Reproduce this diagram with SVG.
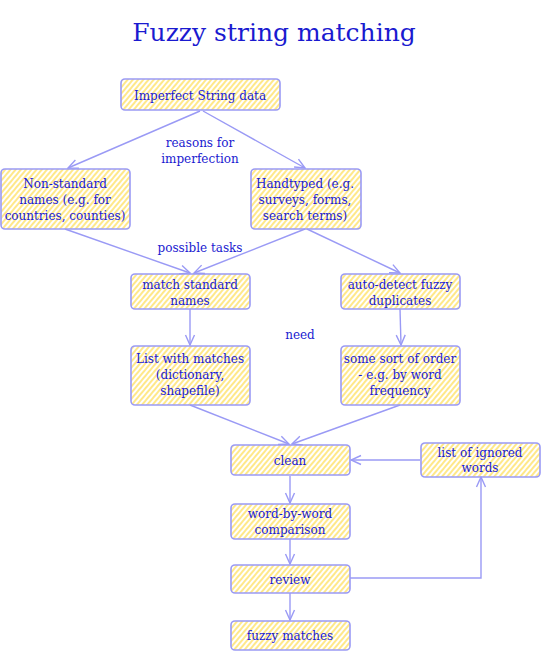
<svg xmlns="http://www.w3.org/2000/svg" width="541" height="652" viewBox="0 0 541 652">
<defs>
<pattern id="hatch" width="4" height="4" patternUnits="userSpaceOnUse" patternTransform="rotate(40)">
<line x1="1" y1="0" x2="1" y2="4" stroke="#ffd83a" stroke-width="1.2"/>
</pattern>
<marker id="arr" viewBox="0 0 12 12" refX="11" refY="6" markerWidth="12" markerHeight="12" markerUnits="userSpaceOnUse" orient="auto">
<path d="M1,1.5 L11,6 L1,10.5" fill="none" stroke="#9a9af5" stroke-width="1.4"/>
</marker>
</defs>
<style>
.box rect{fill:url(#hatch);stroke:#9a9af5;stroke-width:1.6}
text{font-family:"DejaVu Serif","Liberation Serif",serif;fill:#1a1ad0;text-anchor:middle}
.t{font-size:12px}
.title{font-size:25px}
.edges path{fill:none;stroke:#9a9af5;stroke-width:1.4;marker-end:url(#arr)}
</style>
<rect width="541" height="652" fill="#ffffff"/>
<text class="title" x="274" y="41">Fuzzy string matching</text>
<g class="edges" id="connectors">
<path d="M200,111 L68,168"/>
<path d="M203,111 L305,168"/>
<path d="M65,229 L190,273"/>
<path d="M305,229 L194,273"/>
<path d="M307,229 L400,273"/>
<path d="M190,309 L190,345"/>
<path d="M400,309 L401,345"/>
<path d="M190,405 L289,444"/>
<path d="M400,405 L292,444"/>
<path d="M420,460 L351,460"/>
<path d="M290,476 L290,503"/>
<path d="M290,539 L290,564"/>
<path d="M290,593 L290,620"/>
<path d="M350,578 L481,578 L481,477"/>
</g>
<g class="box" id="n-imperfect"><rect x="121" y="79" width="159" height="31" rx="4"/><text class="t" x="200" y="100">Imperfect String data</text></g>
<g class="box" id="n-nonstandard"><rect x="1" y="169" width="129" height="60" rx="4"/><text class="t" x="65" y="188">Non-standard</text><text class="t" x="65" y="204">names (e.g. for</text><text class="t" x="65" y="220">countries, counties)</text></g>
<g class="box" id="n-handtyped"><rect x="251" y="169" width="110" height="60" rx="4"/><text class="t" x="305" y="188">Handtyped (e.g.</text><text class="t" x="305" y="204">surveys, forms,</text><text class="t" x="305" y="220">search terms)</text></g>
<g class="box" id="n-match"><rect x="131" y="274" width="119" height="35" rx="4"/><text class="t" x="190" y="289">match standard</text><text class="t" x="190" y="305">names</text></g>
<g class="box" id="n-autodetect"><rect x="341" y="274" width="119" height="35" rx="4"/><text class="t" x="400" y="289">auto-detect fuzzy</text><text class="t" x="400" y="305">duplicates</text></g>
<g class="box" id="n-list"><rect x="131" y="346" width="119" height="59" rx="4"/><text class="t" x="190" y="363">List with matches</text><text class="t" x="190" y="379">(dictionary,</text><text class="t" x="190" y="395">shapefile)</text></g>
<g class="box" id="n-order"><rect x="341" y="346" width="119" height="59" rx="4"/><text class="t" x="400" y="363">some sort of order</text><text class="t" x="400" y="379">- e.g. by word</text><text class="t" x="400" y="395">frequency</text></g>
<g class="box" id="n-clean"><rect x="231" y="445" width="119" height="30" rx="4"/><text class="t" x="290" y="465">clean</text></g>
<g class="box" id="n-ignored"><rect x="421" y="443" width="119" height="34" rx="4"/><text class="t" x="480" y="457">list of ignored</text><text class="t" x="480" y="472">words</text></g>
<g class="box" id="n-word"><rect x="231" y="504" width="119" height="35" rx="4"/><text class="t" x="290" y="518">word-by-word</text><text class="t" x="290" y="534">comparison</text></g>
<g class="box" id="n-review"><rect x="231" y="565" width="119" height="28" rx="4"/><text class="t" x="290" y="584">review</text></g>
<g class="box" id="n-fuzzy"><rect x="231" y="621" width="119" height="29" rx="4"/><text class="t" x="290" y="640">fuzzy matches</text></g>
<g id="labels">
<text class="t" x="200" y="147">reasons for</text>
<text class="t" x="200" y="163">imperfection</text>
<text class="t" x="200" y="252">possible tasks</text>
<text class="t" x="300" y="339">need</text>
</g>
</svg>
